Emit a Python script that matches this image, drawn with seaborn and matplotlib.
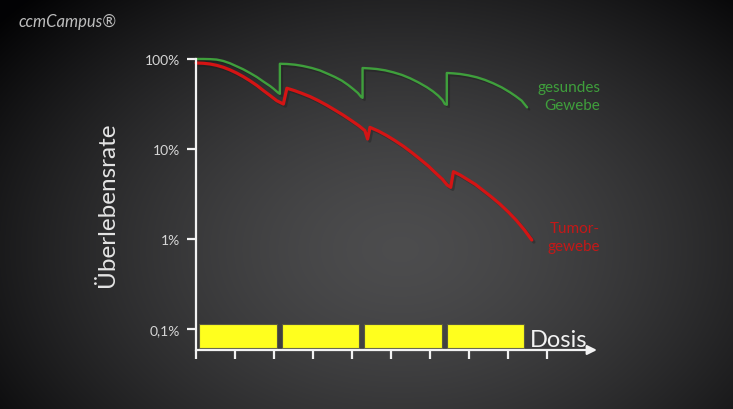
import numpy as np
import pandas as pd
import matplotlib
matplotlib.use("Agg")
import matplotlib.pyplot as plt
import matplotlib.patheffects as pe
from matplotlib.ticker import NullLocator
import seaborn as sns

# survival curves (dose in tick units, survival in %)
green_dose = [0, 0.19, 0.36, 0.53, 0.70, 0.87, 1.04, 1.21, 1.38, 1.56, 1.73, 1.90, 1.98, 2.11, 2.15,
              2.15, 2.33, 2.54, 2.74, 2.97, 3.18, 3.39, 3.56, 3.74, 3.90, 4.03, 4.15, 4.23, 4.27,
              4.27, 4.45, 4.63, 4.85, 5.06, 5.28, 5.49, 5.70, 5.92, 6.08, 6.21, 6.32, 6.38, 6.43,
              6.43, 6.60, 6.77, 6.98, 7.20, 7.41, 7.62, 7.84, 8.05, 8.20, 8.35, 8.49]
green_surv = [100, 100, 99.6, 98.5, 95, 89.6, 83, 76.8, 70, 63, 56, 50, 47, 42, 41,
              88.5, 88.0, 86.4, 83.6, 79.4, 74.5, 68.1, 63.1, 57.4, 51.4, 46.4, 41.9, 38.1, 37,
              79.4, 78.6, 77.4, 74.8, 71.1, 66.5, 61, 55, 48.5, 43.5, 39.1, 35, 31.6, 31,
              69.9, 69.2, 68.1, 65.8, 62.6, 58.5, 53.7, 48.3, 42.6, 38.5, 34.4, 29.0]

red_dose = [0, 0.19, 0.36, 0.53, 0.70, 0.87, 1.04, 1.21, 1.38, 1.56, 1.73, 1.90, 2.07, 2.24,
            2.33, 2.52, 2.71, 2.93, 3.14, 3.35, 3.56, 3.78, 3.99, 4.17, 4.33, 4.40,
            4.46, 4.68, 4.89, 5.10, 5.32, 5.53, 5.74, 5.96, 6.17, 6.32, 6.44, 6.53,
            6.60, 6.77, 6.94, 7.16, 7.37, 7.58, 7.79, 8.01, 8.22, 8.42, 8.61]
red_surv = [90.3, 89.6, 88, 85, 80.9, 75.7, 69.9, 63.7, 57.4, 50.8, 44.5, 39.2, 34.4, 31.6,
            47.3, 44.6, 41.6, 38.1, 34.4, 30.7, 27.1, 23.7, 20.6, 18.2, 16.0, 12.9,
            17.4, 15.8, 14.1, 12.4, 10.7, 9.15, 7.74, 6.45, 5.28, 4.6, 3.98, 3.75,
            5.6, 5.15, 4.64, 4.05, 3.44, 2.92, 2.45, 1.99, 1.60, 1.26, 0.975]

# dose fractions (yellow blocks)
frac_start = [0.085, 2.20, 4.31, 6.43]
frac_end = [2.07, 4.18, 6.30, 8.41]
frac_low = 0.061
frac_high = 0.113

y_ticks = [100, 10, 1, 0.1]
y_labels = ["100%", "10%", "1%", "0,1%"]
x_ticks = list(range(10))

GREEN = "#3f9f3c"
RED = "#d41414"
WHITE = "#f2f2f2"

sns.set_theme(style="ticks")
plt.rcParams["font.family"] = ["Lato", "DejaVu Sans"]

fig = plt.figure(figsize=(7.33, 4.10), dpi=100)

# dark radial background
bg = fig.add_axes([0, 0, 1, 1])
yy, xx = np.mgrid[0:410, 0:733]
r = np.sqrt(((xx - 400) / 430.0) ** 2 + ((yy - 250) / 300.0) ** 2)
v = 0.30 - 0.22 * np.clip(r, 0, 1.2) ** 1.5
img = np.dstack([v, v, v + 0.005])
bg.imshow(np.clip(img, 0, 1), aspect="auto", extent=[0, 1, 0, 1], origin="upper")
bg.axis("off")

ax = fig.add_axes([0.2674, 0.1439, 0.547, 0.7098])
ax.patch.set_alpha(0)

df_g = pd.DataFrame({"dose": green_dose, "survival": green_surv})
df_r = pd.DataFrame({"dose": red_dose, "survival": red_surv})

sns.lineplot(data=df_g, x="dose", y="survival", color=GREEN, lw=1.7,
             estimator=None, sort=False, ax=ax)
sns.lineplot(data=df_r, x="dose", y="survival", color=RED, lw=2.3,
             estimator=None, sort=False, ax=ax)
for ln in ax.lines:
    ln.set_clip_on(False)
    ln.set_solid_joinstyle("round")
    ln.set_path_effects([pe.SimpleLineShadow(offset=(1.5, -1.5), alpha=0.35), pe.Normal()])

ax.set_yscale("log")
ax.set_xlim(0, 10.28)
ax.set_ylim(0.0585, 100)

widths = [e - s for s, e in zip(frac_start, frac_end)]
ax.bar(frac_start, frac_high - frac_low, width=widths, bottom=frac_low, align="edge",
       color="#ffff1e", edgecolor="#5a5a40", linewidth=0.8, zorder=3)

ax.set_yticks(y_ticks)
ax.set_yticklabels(y_labels)
ax.yaxis.set_minor_locator(NullLocator())
ax.set_xticks(x_ticks)
ax.xaxis.set_minor_locator(NullLocator())
ax.tick_params(axis="y", direction="out", length=6.5, width=1.6, color=WHITE,
               labelcolor="#d6d6d6", labelsize=10, pad=5)
ax.tick_params(axis="x", direction="out", length=6.5, width=1.6, color=WHITE,
               labelbottom=False)
ax.set_xlabel("")
ax.set_ylabel("")

for s in ["top", "right", "bottom"]:
    ax.spines[s].set_visible(False)
ax.spines["left"].set_color(WHITE)
ax.spines["left"].set_linewidth(1.6)

ax.annotate("", xy=(1.0, 0), xytext=(0, 0), xycoords="axes fraction",
            arrowprops=dict(arrowstyle="-|>", color=WHITE, lw=1.6, mutation_scale=14,
                            shrinkA=0, shrinkB=0), annotation_clip=False)

ax.text(10.36, 38.8, "gesundes\nGewebe", color=GREEN, fontsize=11, ha="right",
        va="center", multialignment="right", linespacing=1.3)
ax.text(10.36, 1.05, "Tumor-\ngewebe", color="#c41818", fontsize=11, ha="right",
        va="center", multialignment="right", linespacing=1.3)
ax.text(8.56, 0.0652, "Dosis", color=WHITE, fontsize=17, ha="left", va="baseline")

fig.text(0.146, 0.5, "Überlebensrate", color="#e4e4e4", fontsize=17.5, rotation=90,
         ha="center", va="center")

fig.text(0.025, 0.946, "ccmCampus®", color="#bdbdbd", fontsize=12, style="italic",
         ha="left", va="center")

fig.savefig("out.png", dpi=100)
